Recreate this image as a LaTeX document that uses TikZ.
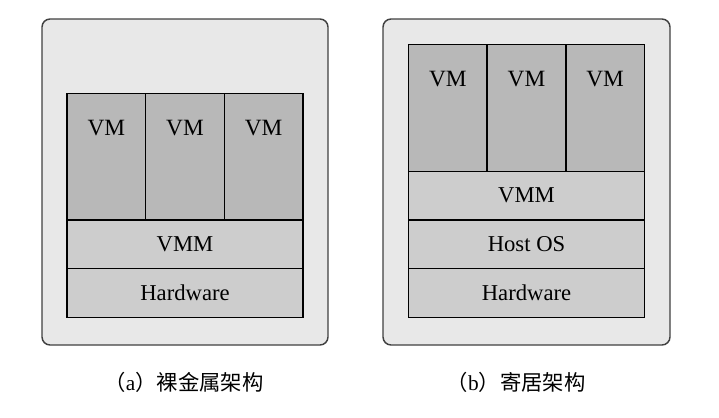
\documentclass[tikz,border=0pt]{standalone}
\usepackage{fontspec}
\setmainfont{Liberation Serif}
\newfontfamily\cjk{Noto Sans CJK SC}
\usetikzlibrary{positioning}
\definecolor{outerFill}{HTML}{E8E8E8}
\definecolor{outerDraw}{HTML}{404040}
\definecolor{vmFill}{HTML}{B8B8B8}
\definecolor{layerFill}{HTML}{CDCDCD}
\tikzstyle{outer}=[rectangle, rounded corners=6pt, draw=outerDraw, line width=1.1pt, fill=outerFill,
  minimum height=244.5pt]
\tikzstyle{layer}=[rectangle, draw=black, line width=1.1pt, fill=layerFill, inner sep=0pt, outer sep=0pt,
  minimum width=177pt, minimum height=36.5pt, font=\fontsize{17}{20}\selectfont]
\tikzstyle{vm}=[rectangle, draw=black, line width=1.1pt, fill=vmFill, inner sep=0pt, outer sep=0pt,
  minimum width=59pt, text height=31.5pt, text depth=63.5pt, font=\fontsize{17.5}{20}\selectfont]
\tikzstyle{caption}=[font=\fontsize{16}{19}\selectfont]

\begin{document}
\begin{tikzpicture}[x=0.75pt, y=-0.75pt]
      \useasboundingbox (0,0) rectangle (719,418);
      % (a) bare-metal
      \node (outerA) [outer, minimum width=214.5pt] at (185,182) {};
      \node (hwA) [layer] at (185,293) {Hardware};
      \node (vmmA) [layer, above=0pt of hwA] {VMM};
      \node (vmA2) [vm, above=0pt of vmmA] {VM};
      \node (vmA1) [vm, left=0pt of vmA2] {VM};
      \node (vmA3) [vm, right=0pt of vmA2] {VM};
      \node (capA) [caption] at (184,382) {{\cjk （}a{\cjk ）裸金属架构}};
      % (b) hosted
      \node (outerB) [outer, minimum width=215.25pt] at (526.5,182) {};
      \node (hwB) [layer] at (526.5,293) {Hardware};
      \node (hostB) [layer, above=0pt of hwB] {Host OS};
      \node (vmmB) [layer, above=0pt of hostB] {VMM};
      \node (vmB2) [vm, above=0pt of vmmB] {VM};
      \node (vmB1) [vm, left=0pt of vmB2] {VM};
      \node (vmB3) [vm, right=0pt of vmB2] {VM};
      \node (capB) [caption] at (516,382) {{\cjk （}b{\cjk ）寄居架构}};
\end{tikzpicture}
\end{document}
